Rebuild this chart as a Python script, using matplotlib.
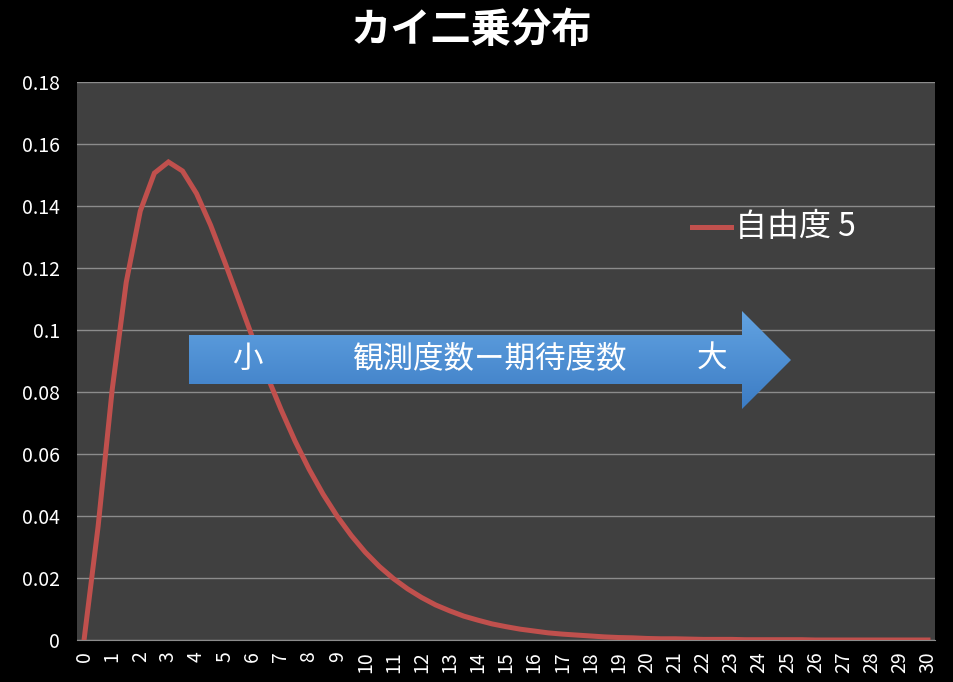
import numpy as np
import matplotlib
matplotlib.use("Agg")
import matplotlib.pyplot as plt
from matplotlib.patches import Polygon

plt.rcParams['font.family'] = ['Noto Sans CJK JP', 'DejaVu Sans']

# chart data (step 0.5 on the x axis)
title = "カイ二乗分布"
series_name = "自由度 5"
x_cats = np.arange(61) * 0.5
density = [
    0.0, 0.0366, 0.0807, 0.1154, 0.1384, 0.1506, 0.1542, 0.1513, 0.1440, 0.1338,
    0.1220, 0.1097, 0.0973, 0.0854, 0.0744, 0.0642, 0.0551, 0.0470, 0.0399, 0.0337,
    0.0283, 0.0237, 0.0198, 0.0165, 0.0137, 0.0113, 0.0094, 0.0077, 0.0064, 0.0052,
    0.0043, 0.0035, 0.0029, 0.0023, 0.0019, 0.0016, 0.0013, 0.0010, 0.0008, 0.0007,
    0.0005, 0.0004, 0.0004, 0.0003, 0.0002, 0.0002, 0.0002, 0.0001, 0.0001, 0.0001,
    0.0001, 0.0001, 0.0, 0.0, 0.0, 0.0, 0.0, 0.0, 0.0, 0.0, 0.0,
]
x_ticks = list(range(0, 31))
y_ticks = [0, 0.02, 0.04, 0.06, 0.08, 0.1, 0.12, 0.14, 0.16, 0.18]
y_tick_labels = ["0", "0.02", "0.04", "0.06", "0.08", "0.1", "0.12", "0.14", "0.16", "0.18"]
arrow_labels = ["小", "観測度数ー期待度数", "大"]

W, H = 954, 682
fig = plt.figure(figsize=(W / 100, H / 100), dpi=100, facecolor='black')
ax = fig.add_axes([77 / W, 1 - 640 / H, 858 / W, 558 / H])
ax.set_facecolor('#404040')

ax.plot(x_cats, density, color='#C0504D', linewidth=3.6, solid_joinstyle='miter', zorder=3)

ax.set_xlim(-0.25, 30.25)
ax.set_ylim(0, 0.18)
ax.set_xticks(x_ticks)
ax.set_xticklabels([str(t) for t in x_ticks], rotation=90, color='white', fontsize=14)
ax.set_yticks(y_ticks)
ax.set_yticklabels(y_tick_labels, color='white', fontsize=14)
ax.tick_params(axis='x', length=0, pad=8)
ax.tick_params(axis='y', length=0, pad=12)
ax.yaxis.grid(True, color='#8C8C8C', linewidth=1.0)
ax.set_axisbelow(True)
for side in ['left', 'right', 'top']:
    ax.spines[side].set_visible(False)
ax.spines['bottom'].set_color('#8C8C8C')

fig.text(471 / W, 1 - 31 / H, title, color='white', fontsize=29, fontweight='bold',
         ha='center', va='center')

# legend drawn by hand inside the plot area
fig.add_artist(plt.Line2D([692 / W, 731 / W], [1 - 227 / H, 1 - 227 / H],
                          color='#C0504D', linewidth=3.6, transform=fig.transFigure))
fig.text(735 / W, 1 - 227 / H, series_name, color='white', fontsize=23, ha='left', va='center')

# blue block arrow with vertical gradient (pixel coordinates of figure)
def fx(px):
    return px / W

def fy(py):
    return 1 - py / H

arrow_pts = [(fx(189), fy(335)), (fx(742), fy(335)), (fx(742), fy(311)), (fx(791), fy(360)),
             (fx(742), fy(409)), (fx(742), fy(384)), (fx(189), fy(384))]
grad = np.linspace(0, 1, 256).reshape(-1, 1)
top_c = np.array([0x62, 0xA3, 0xE2]) / 255
bot_c = np.array([0x3C, 0x7C, 0xC4]) / 255
img = top_c[None, None, :] * (1 - grad[:, :, None]) + bot_c[None, None, :] * grad[:, :, None]
gax = fig.add_axes([0, 0, 1, 1], facecolor='none')
gax.set_xlim(0, 1)
gax.set_ylim(0, 1)
gax.axis('off')
im = gax.imshow(img, extent=[fx(189), fx(791), fy(409), fy(311)], aspect='auto',
                zorder=5)
clip = Polygon(arrow_pts, closed=True, transform=gax.transData, facecolor='none',
               edgecolor='none')
gax.add_patch(clip)
im.set_clip_path(clip)

text_x = [247, 489, 712]
for lbl, px in zip(arrow_labels, text_x):
    gax.text(fx(px), fy(359), lbl, color='white', fontsize=22, ha='center', va='center',
             zorder=6)

fig.savefig("out.png", dpi=100, facecolor='black')
